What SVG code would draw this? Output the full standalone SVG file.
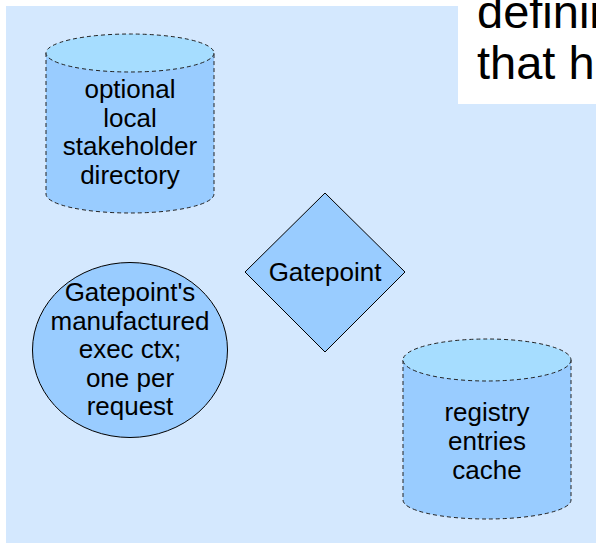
<svg xmlns="http://www.w3.org/2000/svg" width="596" height="543" viewBox="0 0 596 543">
  <style>
    .label { font-family: "Liberation Sans", Arial, sans-serif; font-size: 26px; fill: #000; text-anchor: middle; }
    .note { font-family: "Liberation Sans", Arial, sans-serif; font-size: 47px; fill: #000; }
    .store { fill: #99ccff; stroke: #222; stroke-width: 1; stroke-dasharray: 4 3; }
    .store-top { fill: #a6ddff; stroke: #222; stroke-width: 1; stroke-dasharray: 4 3; }
    .solid { fill: #99ccff; stroke: #000; stroke-width: 1; }
  </style>

  <!-- page background -->
  <rect x="6" y="6" width="590" height="537" fill="#d4e8fe"/>

  <!-- overlapping text frame, top right -->
  <g id="note">
    <rect x="458" y="0" width="138" height="104" fill="#ffffff"/>
    <text class="note" x="477" y="28">definin</text>
    <text class="note" x="477" y="79">that h</text>
  </g>

  <g id="connectors"></g>

  <!-- data store: local stakeholder directory -->
  <g id="stakeholder-directory">
    <path class="store" d="M46,53 L46,194 A84,19 0 0 0 214,194 L214,53 Z"/>
    <ellipse class="store-top" cx="130" cy="53" rx="84" ry="19"/>
    <text class="label" x="130" y="98">optional</text>
    <text class="label" x="130" y="126.5">local</text>
    <text class="label" x="130" y="155">stakeholder</text>
    <text class="label" x="130" y="183.5">directory</text>
  </g>

  <!-- decision: Gatepoint -->
  <g id="gatepoint">
    <polygon class="solid" points="325,193 405,272 325,352 245,272"/>
    <text class="label" x="325" y="281">Gatepoint</text>
  </g>

  <!-- execution context -->
  <g id="exec-ctx">
    <ellipse class="solid" cx="130" cy="350" rx="97.5" ry="87.5"/>
    <text class="label" x="130" y="301">Gatepoint's</text>
    <text class="label" x="130" y="329.5">manufactured</text>
    <text class="label" x="130" y="358">exec ctx;</text>
    <text class="label" x="130" y="386.5">one per</text>
    <text class="label" x="130" y="415">request</text>
  </g>

  <!-- data store: registry entries cache -->
  <g id="registry-cache">
    <path class="store" d="M403,360 L403,500 A84,19 0 0 0 571,500 L571,360 Z"/>
    <ellipse class="store-top" cx="487" cy="360" rx="84" ry="21"/>
    <text class="label" x="487" y="421">registry</text>
    <text class="label" x="487" y="450">entries</text>
    <text class="label" x="487" y="479">cache</text>
  </g>
</svg>
